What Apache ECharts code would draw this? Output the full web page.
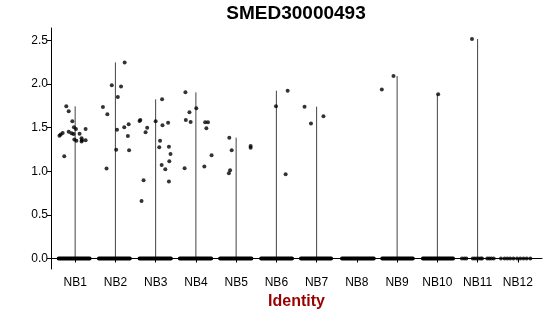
<!DOCTYPE html>
<html>
<head>
<meta charset="utf-8">
<script src="https://cdn.jsdelivr.net/npm/echarts@6/dist/echarts.min.js"></script>
<style>html,body{margin:0;padding:0;background:#fff}#c{width:550px;height:316px}</style>
</head>
<body>
<div id="c"></div>
<script>
const title = 'SMED30000493';
const categories = ['NB1','NB2','NB3','NB4','NB5','NB6','NB7','NB8','NB9','NB10','NB11','NB12'];
const yTicks = [0, 0.5, 1.0, 1.5, 2.0, 2.5];

// expressed cells per identity: [jitter offset, expression value]
const nb1 = [[-0.22,1.743],[-0.16,1.686],[-0.39,1.407],[-0.36,1.419],[-0.31,1.438],[-0.27,1.17],[-0.07,1.571],[-0.03,1.502],[0.02,1.484],[-0.16,1.453],[-0.09,1.434],[-0.04,1.427],[0.11,1.43],[0.26,1.484],[-0.02,1.362],[0.03,1.35],[0.16,1.376],[0.17,1.354],[0.16,1.339],[0.26,1.354]];
const nb2 = [[0.23,2.246],[-0.09,1.983],[0.14,1.971],[0.06,1.85],[-0.31,1.735],[-0.20,1.651],[0.04,1.476],[0.22,1.502],[0.33,1.537],[0.31,1.404],[0.02,1.247],[0.34,1.239],[-0.22,1.03]];
const nb3 = [[0.16,1.823],[-0.40,1.575],[-0.38,1.587],[-0.21,1.499],[-0.25,1.445],[0.00,1.571],[0.17,1.525],[0.31,1.556],[0.11,1.35],[0.09,1.274],[0.33,1.281],[0.37,1.198],[0.15,1.072],[0.24,1.022],[0.34,1.113],[-0.30,0.896],[0.33,0.881],[-0.35,0.66]];
const nb4 = [[-0.26,1.903],[0.01,1.72],[-0.16,1.674],[-0.25,1.587],[-0.13,1.564],[0.23,1.56],[0.30,1.56],[0.26,1.491],[0.39,1.182],[-0.28,1.033],[0.21,1.053]];
const nb5 = [[-0.17,1.384],[-0.11,1.239],[-0.15,1.01],[-0.18,0.976],[0.36,1.29],[0.36,1.27]];
const nb6 = [[-0.01,1.743],[0.28,1.922],[0.23,0.965]];
const nb7 = [[-0.30,1.739],[-0.14,1.545],[0.17,1.628]];
const nb8 = [];
const nb9 = [[-0.38,1.937],[-0.09,2.09]];
const nb10 = [[0.02,1.88]];
const nb11 = [[-0.14,2.514]];
const nb12 = [];
const expressed = [nb1,nb2,nb3,nb4,nb5,nb6,nb7,nb8,nb9,nb10,nb11,nb12];

// zero-expression cells: dense jitter extents per identity (null = drawn as single cells)
const zeroBand = [[-0.41,0.36],[-0.41,0.36],[-0.40,0.38],[-0.40,0.38],[-0.40,0.38],[-0.38,0.39],[-0.39,0.36],[-0.37,0.42],[-0.37,0.39],[-0.36,0.39],null,null];
// sparse zero cells: jitter offsets
const zeroNB11 = [-0.39,-0.33,-0.28,-0.12,-0.07,-0.02,0.03,0.08,0.11,0.24,0.29,0.34,0.40];
const zeroNB12 = [-0.42,-0.33,-0.26,-0.19,-0.11,-0.02,0.06,0.14,0.22,0.31];

const pts = [];
expressed.forEach((g, i) => g.forEach(p => pts.push([i + 1 + p[0], p[1]])));
zeroNB11.forEach(o => pts.push([11 + o, 0]));
zeroNB12.forEach(o => pts.push([12 + o, 0]));

const violins = [];
expressed.forEach((g, i) => {
  const mx = g.length ? Math.max(...g.map(p => p[1])) : 0;
  if (mx > 0) violins.push([i + 1, mx]);
});
const bands = [];
zeroBand.forEach((b, i) => { if (b) bands.push([i + 1 + b[0], i + 1 + b[1]]); });

const FONT = 'Liberation Sans, Arial, sans-serif';
const chart = echarts.init(document.getElementById('c'), null, {renderer: 'canvas'});
chart.setOption({
  animation: false,
  backgroundColor: '#fff',
  grid: {left: 51, right: 8, top: 28, bottom: 47, containLabel: false},
  graphic: [{
    type: 'text', x: 296, y: 14,
    style: {text: title, fontFamily: FONT, fontSize: 19, fontWeight: 'bold', fill: '#000', textAlign: 'center', textVerticalAlign: 'middle'}
  }],
  xAxis: {
    type: 'value', min: 0.4, max: 12.6,
    name: 'Identity', nameLocation: 'middle', nameGap: 22,
    nameTextStyle: {fontFamily: FONT, fontSize: 16, fontWeight: 'bold', color: '#990000'},
    splitLine: {show: false},
    axisLine: {show: true, lineStyle: {color: '#000', width: 1}},
    axisTick: {show: true, length: 4, lineStyle: {color: '#000'}, customValues: categories.map((c, i) => i + 1)},
    axisLabel: {fontFamily: FONT, fontSize: 12, color: '#000', margin: 8,
      customValues: categories.map((c, i) => i + 1),
      formatter: v => categories[Math.round(v) - 1] || ''}
  },
  yAxis: {
    type: 'value', min: -0.12, max: 2.64,
    splitLine: {show: false},
    axisLine: {show: true, lineStyle: {color: '#000', width: 1}},
    axisTick: {show: true, length: 4, lineStyle: {color: '#000'}, customValues: yTicks},
    axisLabel: {fontFamily: FONT, fontSize: 12, color: '#000', margin: 3, customValues: yTicks,
      formatter: v => v.toFixed(1)}
  },
  series: [
    {
      type: 'custom', data: violins, z: 2,
      renderItem: (params, api) => {
        const a = api.coord([api.value(0), 0]);
        const b = api.coord([api.value(0), api.value(1)]);
        return {type: 'line', shape: {x1: a[0], y1: a[1], x2: b[0], y2: b[1]},
          style: {stroke: '#444', lineWidth: 1}};
      }
    },
    {
      type: 'custom', data: bands, z: 3,
      renderItem: (params, api) => {
        const a = api.coord([api.value(0), 0]);
        const b = api.coord([api.value(1), 0]);
        return {type: 'line', shape: {x1: a[0], y1: a[1], x2: b[0], y2: b[1]},
          style: {stroke: '#000', lineWidth: 4, lineCap: 'round'}};
      }
    },
    {
      type: 'scatter', data: pts, symbol: 'circle', symbolSize: 4, z: 4,
      itemStyle: {color: '#000'}
    }
  ]
});
</script>
</body>
</html>
